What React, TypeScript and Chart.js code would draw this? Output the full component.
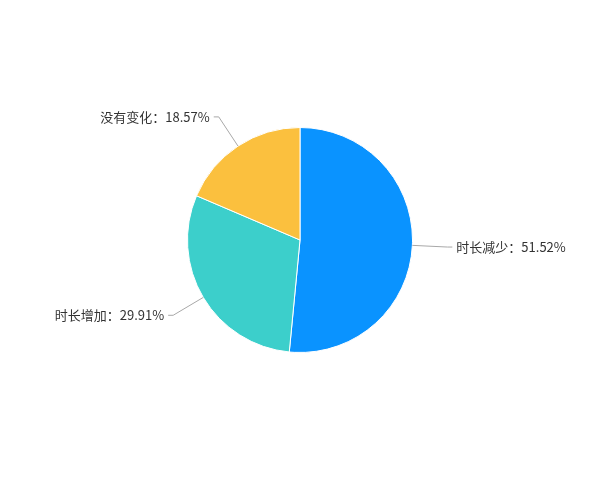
import { useEffect, useRef } from "react";
import { Chart, registerables } from "chart.js";

Chart.register(...registerables);

// slice data, clockwise from 12 o'clock
const categories = ["时长减少", "时长增加", "没有变化"];
const shares = [51.52, 29.91, 18.57];
const sliceColors = ["#0A93FF", "#3CCFCB", "#FBC03E"];

// leader lines + "name：value%" labels next to each slice
const sliceLabels = {
  id: "sliceLabels",
  afterDatasetsDraw(chart: Chart) {
    const ctx = chart.ctx;
    const meta = chart.getDatasetMeta(0);
    const len1 = 35;
    const len2 = 5;
    ctx.save();
    ctx.font = '13px "Noto Sans CJK SC", "Noto Sans", sans-serif';
    ctx.textBaseline = "middle";
    meta.data.forEach((el: any, i: number) => {
      const { x, y, startAngle, endAngle, outerRadius } = el.getProps(
        ["x", "y", "startAngle", "endAngle", "outerRadius"],
        true
      );
      const mid = (startAngle + endAngle) / 2;
      const cos = Math.cos(mid);
      const sin = Math.sin(mid);
      const dir = cos >= 0 ? 1 : -1;
      const x0 = x + outerRadius * cos;
      const y0 = y + outerRadius * sin;
      const x1 = x + (outerRadius + len1) * cos;
      const y1 = y + (outerRadius + len1) * sin;
      const x2 = x1 + dir * len2;

      ctx.strokeStyle = "#a8a8a8";
      ctx.lineWidth = 1;
      ctx.beginPath();
      ctx.moveTo(x0, y0);
      ctx.lineTo(x1, y1);
      ctx.lineTo(x2, y1);
      ctx.stroke();

      ctx.fillStyle = "#333333";
      ctx.textAlign = dir > 0 ? "left" : "right";
      ctx.fillText(
        `${categories[i]}：${shares[i].toFixed(2)}%`,
        x2 + dir * 4,
        y1
      );
    });
    ctx.restore();
  },
};

export default function App() {
  const canvasRef = useRef<HTMLCanvasElement>(null);

  useEffect(() => {
    if (!canvasRef.current) return;
    const chart = new Chart(canvasRef.current, {
      type: "pie",
      data: {
        labels: categories,
        datasets: [
          {
            data: shares,
            backgroundColor: sliceColors,
            borderColor: "#ffffff",
            borderWidth: 1,
          },
        ],
      },
      options: {
        responsive: false,
        animation: false,
        layout: { padding: { left: 187, right: 187, top: 127, bottom: 127 } },
        plugins: {
          legend: { display: false },
          tooltip: { enabled: false },
        },
      },
      plugins: [sliceLabels],
    });
    return () => chart.destroy();
  }, []);

  return (
    <div style={{ position: "fixed", left: 0, top: 0, width: 600, height: 480, background: "#fff" }}>
      <canvas ref={canvasRef} width={600} height={480} />
    </div>
  );
}
